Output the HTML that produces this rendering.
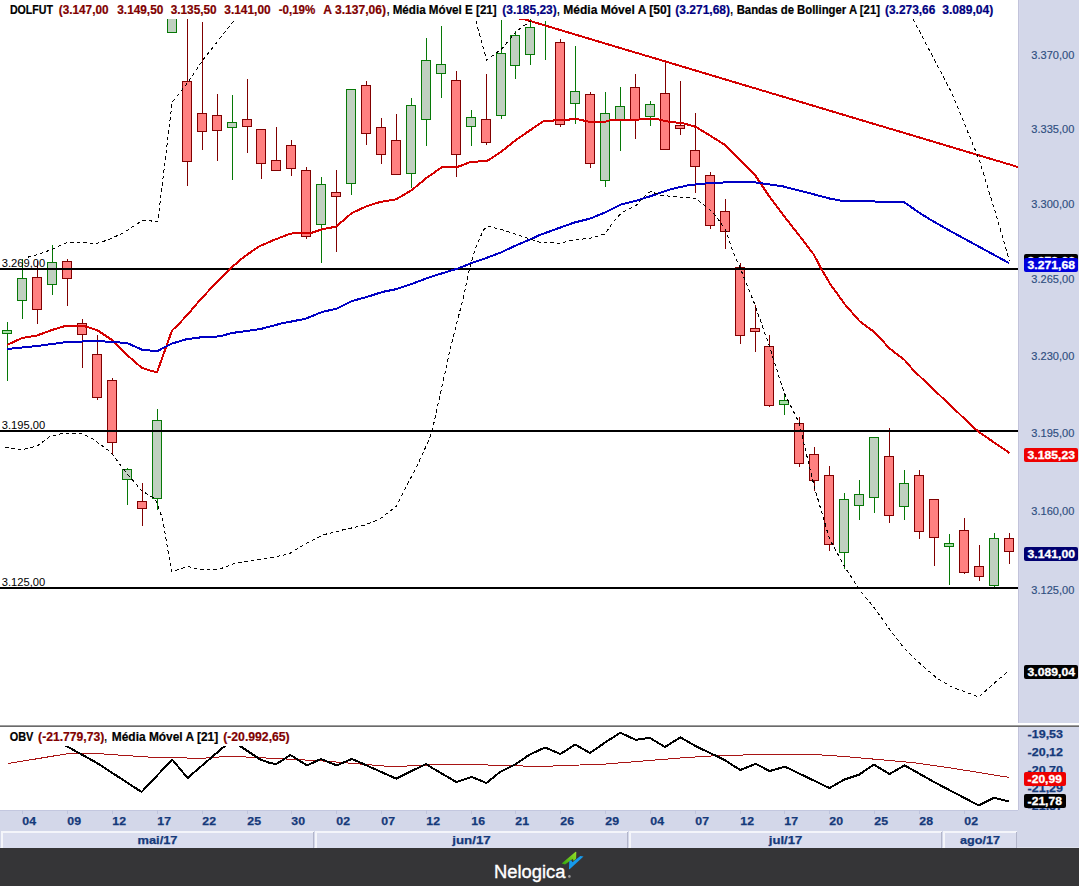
<!DOCTYPE html>
<html><head><meta charset="utf-8"><title>DOLFUT</title>
<style>
html,body{margin:0;padding:0;background:#fff;}
body{width:1079px;height:886px;overflow:hidden;position:relative;font-family:"Liberation Sans",sans-serif;}
svg{position:absolute;left:0;top:0;}
text{font-family:"Liberation Sans",sans-serif;}
.t{font-weight:bold;font-size:12px;stroke-width:0.2px;}
.ax{font-size:11px;fill:#2F4E80;stroke:#2F4E80;stroke-width:0.15px;}
.tag{font-size:11px;font-weight:bold;fill:#fff;stroke:#fff;stroke-width:0.3px;}
.xl{font-size:11px;font-weight:bold;fill:#15397A;stroke:#15397A;stroke-width:0.25px;}
.hl{font-size:11px;fill:#000;}
</style></head><body>
<svg width="1079" height="886" viewBox="0 0 1079 886">
<rect x="0" y="0" width="1079" height="886" fill="#fff"/>
<defs>
<clipPath id="cm"><rect x="0" y="19" width="1018" height="704"/></clipPath>
<clipPath id="co"><rect x="0" y="727" width="1018" height="83"/></clipPath>
</defs>
<!-- right axis -->
<rect x="1018" y="0" width="61" height="848" fill="#D3D7E9"/>
<rect x="1018" y="0" width="1" height="810" fill="#C2C3DA"/>
<rect x="1019" y="0" width="1" height="810" fill="#D6D8EC"/>
<!-- main chart -->
<g clip-path="url(#cm)">
<g shape-rendering="crispEdges">
<rect x="7" y="322" width="1" height="59" fill="#067806"/>
<rect x="2" y="330" width="10" height="4" fill="#067806"/>
<rect x="3" y="331" width="8" height="2" fill="#A6DCA6"/>
<rect x="22" y="259" width="1" height="60" fill="#067806"/>
<rect x="17" y="278" width="10" height="23" fill="#067806"/>
<rect x="18" y="279" width="8" height="21" fill="#C0D0C0"/>
<rect x="37" y="261" width="1" height="63" fill="#800000"/>
<rect x="32" y="277" width="10" height="33" fill="#800000"/>
<rect x="33" y="278" width="8" height="31" fill="#FF8080"/>
<rect x="52" y="245" width="1" height="50" fill="#067806"/>
<rect x="47" y="262" width="10" height="23" fill="#067806"/>
<rect x="48" y="263" width="8" height="21" fill="#C0D0C0"/>
<rect x="67" y="259" width="1" height="47" fill="#800000"/>
<rect x="62" y="261" width="10" height="18" fill="#800000"/>
<rect x="63" y="262" width="8" height="16" fill="#FF8080"/>
<rect x="82" y="319" width="1" height="49" fill="#800000"/>
<rect x="77" y="323" width="10" height="12" fill="#800000"/>
<rect x="78" y="324" width="8" height="10" fill="#FF8080"/>
<rect x="97" y="335" width="1" height="65" fill="#800000"/>
<rect x="92" y="354" width="10" height="44" fill="#800000"/>
<rect x="93" y="355" width="8" height="42" fill="#FF8080"/>
<rect x="112" y="378" width="1" height="77" fill="#800000"/>
<rect x="107" y="380" width="10" height="63" fill="#800000"/>
<rect x="108" y="381" width="8" height="61" fill="#FF8080"/>
<rect x="127" y="468" width="1" height="37" fill="#067806"/>
<rect x="122" y="469" width="10" height="11" fill="#067806"/>
<rect x="123" y="470" width="8" height="9" fill="#C0D0C0"/>
<rect x="142" y="483" width="1" height="43" fill="#800000"/>
<rect x="137" y="501" width="10" height="8" fill="#800000"/>
<rect x="138" y="502" width="8" height="6" fill="#FF8080"/>
<rect x="157" y="409" width="1" height="101" fill="#067806"/>
<rect x="152" y="420" width="10" height="79" fill="#067806"/>
<rect x="153" y="421" width="8" height="77" fill="#C0D0C0"/>
<rect x="172" y="0" width="1" height="33" fill="#067806"/>
<rect x="167" y="0" width="10" height="33" fill="#067806"/>
<rect x="168" y="1" width="8" height="31" fill="#C0D0C0"/>
<rect x="187" y="0" width="1" height="186" fill="#800000"/>
<rect x="182" y="81" width="10" height="81" fill="#800000"/>
<rect x="183" y="82" width="8" height="79" fill="#FF8080"/>
<rect x="202" y="22" width="1" height="128" fill="#800000"/>
<rect x="197" y="113" width="10" height="19" fill="#800000"/>
<rect x="198" y="114" width="8" height="17" fill="#FF8080"/>
<rect x="217" y="94" width="1" height="67" fill="#800000"/>
<rect x="212" y="115" width="10" height="16" fill="#800000"/>
<rect x="213" y="116" width="8" height="14" fill="#FF8080"/>
<rect x="232" y="95" width="1" height="85" fill="#067806"/>
<rect x="227" y="122" width="10" height="6" fill="#067806"/>
<rect x="228" y="123" width="8" height="4" fill="#C0D0C0"/>
<rect x="247" y="79" width="1" height="74" fill="#800000"/>
<rect x="242" y="119" width="10" height="8" fill="#800000"/>
<rect x="243" y="120" width="8" height="6" fill="#FF8080"/>
<rect x="261" y="129" width="1" height="50" fill="#800000"/>
<rect x="256" y="129" width="10" height="35" fill="#800000"/>
<rect x="257" y="130" width="8" height="33" fill="#FF8080"/>
<rect x="276" y="127" width="1" height="44" fill="#800000"/>
<rect x="271" y="160" width="10" height="11" fill="#800000"/>
<rect x="272" y="161" width="8" height="9" fill="#FF8080"/>
<rect x="291" y="140" width="1" height="36" fill="#800000"/>
<rect x="286" y="145" width="10" height="24" fill="#800000"/>
<rect x="287" y="146" width="8" height="22" fill="#FF8080"/>
<rect x="306" y="167" width="1" height="72" fill="#800000"/>
<rect x="301" y="170" width="10" height="67" fill="#800000"/>
<rect x="302" y="171" width="8" height="65" fill="#FF8080"/>
<rect x="321" y="177" width="1" height="86" fill="#067806"/>
<rect x="316" y="184" width="10" height="41" fill="#067806"/>
<rect x="317" y="185" width="8" height="39" fill="#C0D0C0"/>
<rect x="336" y="170" width="1" height="82" fill="#800000"/>
<rect x="331" y="192" width="10" height="5" fill="#800000"/>
<rect x="332" y="193" width="8" height="3" fill="#FF8080"/>
<rect x="351" y="89" width="1" height="106" fill="#067806"/>
<rect x="346" y="89" width="10" height="95" fill="#067806"/>
<rect x="347" y="90" width="8" height="93" fill="#C0D0C0"/>
<rect x="366" y="81" width="1" height="64" fill="#800000"/>
<rect x="361" y="85" width="10" height="49" fill="#800000"/>
<rect x="362" y="86" width="8" height="47" fill="#FF8080"/>
<rect x="381" y="118" width="1" height="46" fill="#800000"/>
<rect x="376" y="127" width="10" height="28" fill="#800000"/>
<rect x="377" y="128" width="8" height="26" fill="#FF8080"/>
<rect x="396" y="114" width="1" height="61" fill="#800000"/>
<rect x="391" y="140" width="10" height="35" fill="#800000"/>
<rect x="392" y="141" width="8" height="33" fill="#FF8080"/>
<rect x="411" y="98" width="1" height="90" fill="#067806"/>
<rect x="406" y="105" width="10" height="69" fill="#067806"/>
<rect x="407" y="106" width="8" height="67" fill="#C0D0C0"/>
<rect x="426" y="38" width="1" height="108" fill="#067806"/>
<rect x="421" y="60" width="10" height="60" fill="#067806"/>
<rect x="422" y="61" width="8" height="58" fill="#C0D0C0"/>
<rect x="441" y="26" width="1" height="72" fill="#067806"/>
<rect x="436" y="64" width="10" height="10" fill="#067806"/>
<rect x="437" y="65" width="8" height="8" fill="#C0D0C0"/>
<rect x="456" y="71" width="1" height="106" fill="#800000"/>
<rect x="451" y="80" width="10" height="75" fill="#800000"/>
<rect x="452" y="81" width="8" height="73" fill="#FF8080"/>
<rect x="471" y="110" width="1" height="36" fill="#067806"/>
<rect x="466" y="117" width="10" height="10" fill="#067806"/>
<rect x="467" y="118" width="8" height="8" fill="#C0D0C0"/>
<rect x="486" y="74" width="1" height="71" fill="#800000"/>
<rect x="481" y="119" width="10" height="24" fill="#800000"/>
<rect x="482" y="120" width="8" height="22" fill="#FF8080"/>
<rect x="501" y="20" width="1" height="99" fill="#067806"/>
<rect x="496" y="53" width="10" height="63" fill="#067806"/>
<rect x="497" y="54" width="8" height="61" fill="#C0D0C0"/>
<rect x="515" y="31" width="1" height="48" fill="#067806"/>
<rect x="510" y="35" width="10" height="31" fill="#067806"/>
<rect x="511" y="36" width="8" height="29" fill="#C0D0C0"/>
<rect x="530" y="19" width="1" height="46" fill="#067806"/>
<rect x="525" y="27" width="10" height="28" fill="#067806"/>
<rect x="526" y="28" width="8" height="26" fill="#C0D0C0"/>
<rect x="545" y="21" width="1" height="39" fill="#067806"/>
<rect x="540" y="21" width="10" height="0" fill="#067806"/>
<rect x="560" y="39" width="1" height="88" fill="#800000"/>
<rect x="555" y="42" width="10" height="83" fill="#800000"/>
<rect x="556" y="43" width="8" height="81" fill="#FF8080"/>
<rect x="575" y="46" width="1" height="78" fill="#067806"/>
<rect x="570" y="91" width="10" height="13" fill="#067806"/>
<rect x="571" y="92" width="8" height="11" fill="#C0D0C0"/>
<rect x="590" y="92" width="1" height="76" fill="#800000"/>
<rect x="585" y="94" width="10" height="70" fill="#800000"/>
<rect x="586" y="95" width="8" height="68" fill="#FF8080"/>
<rect x="605" y="92" width="1" height="95" fill="#067806"/>
<rect x="600" y="113" width="10" height="68" fill="#067806"/>
<rect x="601" y="114" width="8" height="66" fill="#C0D0C0"/>
<rect x="620" y="87" width="1" height="64" fill="#067806"/>
<rect x="615" y="106" width="10" height="14" fill="#067806"/>
<rect x="616" y="107" width="8" height="12" fill="#C0D0C0"/>
<rect x="635" y="74" width="1" height="65" fill="#800000"/>
<rect x="630" y="87" width="10" height="33" fill="#800000"/>
<rect x="631" y="88" width="8" height="31" fill="#FF8080"/>
<rect x="650" y="101" width="1" height="25" fill="#067806"/>
<rect x="645" y="104" width="10" height="13" fill="#067806"/>
<rect x="646" y="105" width="8" height="11" fill="#C0D0C0"/>
<rect x="665" y="60" width="1" height="90" fill="#800000"/>
<rect x="660" y="93" width="10" height="57" fill="#800000"/>
<rect x="661" y="94" width="8" height="55" fill="#FF8080"/>
<rect x="680" y="81" width="1" height="54" fill="#800000"/>
<rect x="675" y="125" width="10" height="4" fill="#800000"/>
<rect x="676" y="126" width="8" height="2" fill="#FF8080"/>
<rect x="695" y="113" width="1" height="80" fill="#800000"/>
<rect x="690" y="150" width="10" height="17" fill="#800000"/>
<rect x="691" y="151" width="8" height="15" fill="#FF8080"/>
<rect x="710" y="172" width="1" height="57" fill="#800000"/>
<rect x="705" y="175" width="10" height="51" fill="#800000"/>
<rect x="706" y="176" width="8" height="49" fill="#FF8080"/>
<rect x="725" y="199" width="1" height="50" fill="#800000"/>
<rect x="720" y="211" width="10" height="21" fill="#800000"/>
<rect x="721" y="212" width="8" height="19" fill="#FF8080"/>
<rect x="740" y="263" width="1" height="81" fill="#800000"/>
<rect x="735" y="267" width="10" height="69" fill="#800000"/>
<rect x="736" y="268" width="8" height="67" fill="#FF8080"/>
<rect x="755" y="305" width="1" height="47" fill="#800000"/>
<rect x="750" y="328" width="10" height="4" fill="#800000"/>
<rect x="751" y="329" width="8" height="2" fill="#FF8080"/>
<rect x="769" y="335" width="1" height="72" fill="#800000"/>
<rect x="764" y="346" width="10" height="60" fill="#800000"/>
<rect x="765" y="347" width="8" height="58" fill="#FF8080"/>
<rect x="784" y="395" width="1" height="20" fill="#067806"/>
<rect x="779" y="400" width="10" height="5" fill="#067806"/>
<rect x="780" y="401" width="8" height="3" fill="#A6DCA6"/>
<rect x="799" y="417" width="1" height="50" fill="#800000"/>
<rect x="794" y="423" width="10" height="41" fill="#800000"/>
<rect x="795" y="424" width="8" height="39" fill="#FF8080"/>
<rect x="814" y="447" width="1" height="44" fill="#800000"/>
<rect x="809" y="454" width="10" height="27" fill="#800000"/>
<rect x="810" y="455" width="8" height="25" fill="#FF8080"/>
<rect x="829" y="466" width="1" height="85" fill="#800000"/>
<rect x="824" y="475" width="10" height="70" fill="#800000"/>
<rect x="825" y="476" width="8" height="68" fill="#FF8080"/>
<rect x="844" y="493" width="1" height="76" fill="#067806"/>
<rect x="839" y="499" width="10" height="54" fill="#067806"/>
<rect x="840" y="500" width="8" height="52" fill="#C0D0C0"/>
<rect x="859" y="480" width="1" height="40" fill="#067806"/>
<rect x="854" y="494" width="10" height="12" fill="#067806"/>
<rect x="855" y="495" width="8" height="10" fill="#C0D0C0"/>
<rect x="874" y="437" width="1" height="76" fill="#067806"/>
<rect x="869" y="437" width="10" height="61" fill="#067806"/>
<rect x="870" y="438" width="8" height="59" fill="#C0D0C0"/>
<rect x="889" y="428" width="1" height="95" fill="#800000"/>
<rect x="884" y="456" width="10" height="60" fill="#800000"/>
<rect x="885" y="457" width="8" height="58" fill="#FF8080"/>
<rect x="904" y="470" width="1" height="50" fill="#067806"/>
<rect x="899" y="483" width="10" height="24" fill="#067806"/>
<rect x="900" y="484" width="8" height="22" fill="#C0D0C0"/>
<rect x="919" y="470" width="1" height="69" fill="#800000"/>
<rect x="914" y="475" width="10" height="57" fill="#800000"/>
<rect x="915" y="476" width="8" height="55" fill="#FF8080"/>
<rect x="934" y="499" width="1" height="67" fill="#800000"/>
<rect x="929" y="499" width="10" height="39" fill="#800000"/>
<rect x="930" y="500" width="8" height="37" fill="#FF8080"/>
<rect x="949" y="534" width="1" height="51" fill="#067806"/>
<rect x="944" y="543" width="10" height="4" fill="#067806"/>
<rect x="945" y="544" width="8" height="2" fill="#A6DCA6"/>
<rect x="964" y="518" width="1" height="56" fill="#800000"/>
<rect x="959" y="530" width="10" height="43" fill="#800000"/>
<rect x="960" y="531" width="8" height="41" fill="#FF8080"/>
<rect x="979" y="545" width="1" height="36" fill="#800000"/>
<rect x="974" y="566" width="10" height="11" fill="#800000"/>
<rect x="975" y="567" width="8" height="9" fill="#FF8080"/>
<rect x="994" y="533" width="1" height="54" fill="#067806"/>
<rect x="989" y="538" width="10" height="48" fill="#067806"/>
<rect x="990" y="539" width="8" height="46" fill="#C0D0C0"/>
<rect x="1009" y="533" width="1" height="31" fill="#800000"/>
<rect x="1004" y="538" width="10" height="14" fill="#800000"/>
<rect x="1005" y="539" width="8" height="12" fill="#FF8080"/>
</g>
<g shape-rendering="crispEdges">
<rect x="0" y="268" width="1018" height="2" fill="#000"/>
<rect x="0" y="430" width="1018" height="2" fill="#000"/>
<rect x="0" y="587" width="1018" height="2" fill="#000"/>
</g>
<line x1="514" y1="16.2" x2="1020" y2="167.6" stroke="#D40000" stroke-width="2" shape-rendering="crispEdges"/>
<rect x="519" y="19" width="8" height="1" fill="#D40000" shape-rendering="crispEdges"/>
<polyline points="7.0,345.0 22.0,338.0 37.0,335.5 52.0,330.0 67.0,325.5 82.0,325.5 97.0,330.0 112.0,340.0 127.0,355.0 142.0,368.0 157.0,372.5 172.0,330.5 179.3,323.5 190.4,311.4 199.7,300.3 216.3,282.7 231.2,267.8 244.1,256.7 259.0,246.5 273.8,240.0 290.5,233.6 299.7,233.0 310.9,233.0 322.0,229.3 335.9,226.7 344.2,219.7 351.6,213.2 366.8,206.1 380.3,202.0 396.1,199.3 411.5,190.3 426.6,177.9 441.7,167.3 456.6,167.3 471.7,161.6 486.4,161.4 501.1,151.9 518.0,138.4 531.6,129.3 544.0,120.8 550.0,120.6 565.3,120.2 575.0,118.6 580.7,119.8 588.4,121.7 605.6,121.7 611.4,119.8 636.3,119.8 645.9,118.6 657.4,119.2 665.1,121.1 684.3,123.6 695.8,126.9 710.0,135.5 725.0,145.0 740.0,160.0 755.0,175.0 770.0,197.5 786.2,218.8 800.0,236.5 814.0,254.8 821.0,268.5 830.5,284.5 845.0,304.5 859.9,321.5 874.8,332.4 889.7,348.6 904.6,360.0 912.7,369.5 927.6,383.8 942.5,397.9 957.4,412.0 973.7,427.7 980.4,433.1 1009.5,453.0" fill="none" stroke="#D40000" stroke-width="2" stroke-linejoin="round" shape-rendering="crispEdges"/>
<polyline points="7.0,349.0 37.0,346.0 67.0,342.0 97.0,341.0 127.0,343.0 142.0,349.7 157.0,351.2 172.0,343.5 186.7,339.2 203.4,337.0 220.0,336.4 231.2,333.1 260.8,329.0 281.2,323.5 305.3,318.8 322.0,312.0 336.8,308.6 351.6,301.2 370.0,296.0 382.6,291.9 396.1,289.2 411.5,284.0 426.6,278.3 441.7,273.4 457.0,268.8 471.7,263.0 486.4,258.0 501.1,252.4 518.0,244.5 531.6,238.8 540.0,234.9 573.4,222.8 590.0,218.6 604.9,212.6 621.6,204.3 636.4,200.6 651.2,196.0 669.7,189.5 688.3,185.2 706.8,183.3 725.4,182.4 752.8,182.0 783.4,186.5 811.2,193.6 830.7,198.8 844.6,201.3 889.0,201.6 904.3,202.2 919.6,213.0 933.0,221.2 950.2,231.0 1009.0,263.0" fill="none" stroke="#0000C4" stroke-width="2" stroke-linejoin="round" shape-rendering="crispEdges"/>
<polyline points="27.5,257.3 38.4,254.3 51.8,249.5 66.2,242.8 80.6,242.3 96.0,243.8 107.5,240.0 122.8,233.2 134.4,225.6 142.0,220.8 149.7,220.4 153.6,221.7 157.8,221.7 171.8,105.0 172.8,101.5 187.8,82.6 202.9,60.0 235.4,18.8" fill="none" stroke="#000" stroke-width="1" stroke-dasharray="3.5,3" shape-rendering="crispEdges"/>
<polyline points="475.9,21.0 486.6,60.0 501.7,49.0 516.7,31.0 530.5,21.0" fill="none" stroke="#000" stroke-width="1" stroke-dasharray="3.5,3" shape-rendering="crispEdges"/>
<polyline points="913.0,19.0 951.7,92.7 979.3,160.0 998.0,221.0 1009.3,261.0" fill="none" stroke="#000" stroke-width="1" stroke-dasharray="3.5,3" shape-rendering="crispEdges"/>
<polyline points="5.0,447.3 7.5,447.6 21.1,450.0 37.3,445.8 49.7,436.6 62.1,433.4 82.0,433.4 92.0,438.4 110.6,452.0 126.7,473.2 141.6,490.6 155.3,498.8 162.7,519.1 171.4,571.8 187.8,566.5 202.9,570.0 218.0,569.7 233.0,564.0 248.0,561.0 270.0,557.7 288.8,554.0 305.0,544.0 323.8,534.7 342.6,530.0 365.0,525.0 380.0,519.0 396.5,506.0 405.0,489.0 415.0,470.0 429.0,440.0 432.8,428.0 450.0,350.0 462.7,300.0 469.5,269.3 475.1,249.0 483.0,230.9 486.9,226.0 500.0,229.1 515.8,234.3 529.3,238.8 540.0,242.5 560.4,243.2 573.4,240.0 590.0,238.2 604.9,234.0 614.1,221.0 621.6,212.6 636.4,205.2 647.5,193.2 651.2,191.3 655.0,193.2 662.3,195.6 679.0,196.9 695.7,198.2 703.1,204.3 712.4,211.7 725.4,229.3 732.8,251.6 740.0,267.5 755.0,305.0 769.0,345.0 784.0,392.5 799.0,422.5 809.0,465.0 814.5,487.5 829.5,539.0 844.5,566.5 859.6,590.0 874.4,608.0 889.4,629.0 904.0,648.0 916.7,660.5 936.6,678.0 952.0,687.0 978.7,697.0 1009.3,670.0" fill="none" stroke="#000" stroke-width="1" stroke-dasharray="3.5,3" shape-rendering="crispEdges"/>
</g>
<text class="hl" x="1.8" y="267" textLength="43.5" lengthAdjust="spacingAndGlyphs">3.269,00</text>
<text class="hl" x="1.8" y="429" textLength="43.5" lengthAdjust="spacingAndGlyphs">3.195,00</text>
<text class="hl" x="1.8" y="586" textLength="43.5" lengthAdjust="spacingAndGlyphs">3.125,00</text>
<text class="t" x="9.9" y="13.5" textLength="43.1" lengthAdjust="spacingAndGlyphs" fill="#000000" stroke="#000000">DOLFUT</text>
<text class="t" x="58.8" y="13.5" textLength="49.7" lengthAdjust="spacingAndGlyphs" fill="#800000" stroke="#800000">(3.147,00</text>
<text class="t" x="117.3" y="13.5" textLength="46.0" lengthAdjust="spacingAndGlyphs" fill="#800000" stroke="#800000">3.149,50</text>
<text class="t" x="170.7" y="13.5" textLength="46.0" lengthAdjust="spacingAndGlyphs" fill="#800000" stroke="#800000">3.135,50</text>
<text class="t" x="224.3" y="13.5" textLength="46.4" lengthAdjust="spacingAndGlyphs" fill="#800000" stroke="#800000">3.141,00</text>
<text class="t" x="278.7" y="13.5" textLength="36.6" lengthAdjust="spacingAndGlyphs" fill="#800000" stroke="#800000">-0,19%</text>
<text class="t" x="323.3" y="13.5" textLength="62.7" lengthAdjust="spacingAndGlyphs" fill="#800000" stroke="#800000">A 3.137,06)</text>
<text class="t" x="387.0" y="13.5" textLength="2.3" lengthAdjust="spacingAndGlyphs" fill="#000000" stroke="#000000">,</text>
<text class="t" x="392.7" y="13.5" textLength="104.0" lengthAdjust="spacingAndGlyphs" fill="#000000" stroke="#000000">Média Móvel E [21]</text>
<text class="t" x="502.3" y="13.5" textLength="54.4" lengthAdjust="spacingAndGlyphs" fill="#000080" stroke="#000080">(3.185,23)</text>
<text class="t" x="557.3" y="13.5" textLength="2.3" lengthAdjust="spacingAndGlyphs" fill="#000000" stroke="#000000">,</text>
<text class="t" x="563.3" y="13.5" textLength="107.4" lengthAdjust="spacingAndGlyphs" fill="#000000" stroke="#000000">Média Móvel A [50]</text>
<text class="t" x="675.3" y="13.5" textLength="54.7" lengthAdjust="spacingAndGlyphs" fill="#000080" stroke="#000080">(3.271,68)</text>
<text class="t" x="730.6" y="13.5" textLength="2.3" lengthAdjust="spacingAndGlyphs" fill="#000000" stroke="#000000">,</text>
<text class="t" x="736.7" y="13.5" textLength="143.3" lengthAdjust="spacingAndGlyphs" fill="#000000" stroke="#000000">Bandas de Bollinger A [21]</text>
<text class="t" x="885.0" y="13.5" textLength="50.3" lengthAdjust="spacingAndGlyphs" fill="#000080" stroke="#000080">(3.273,66</text>
<text class="t" x="942.3" y="13.5" textLength="51.0" lengthAdjust="spacingAndGlyphs" fill="#000080" stroke="#000080">3.089,04)</text>
<text class="ax" x="1031.3" y="59" textLength="43.0" lengthAdjust="spacingAndGlyphs">3.370,00</text>
<text class="ax" x="1031.3" y="133" textLength="43.0" lengthAdjust="spacingAndGlyphs">3.335,00</text>
<text class="ax" x="1031.3" y="208" textLength="43.0" lengthAdjust="spacingAndGlyphs">3.300,00</text>
<text class="ax" x="1031.3" y="283" textLength="43.0" lengthAdjust="spacingAndGlyphs">3.265,00</text>
<text class="ax" x="1031.3" y="360" textLength="43.0" lengthAdjust="spacingAndGlyphs">3.230,00</text>
<text class="ax" x="1031.3" y="437" textLength="43.0" lengthAdjust="spacingAndGlyphs">3.195,00</text>
<text class="ax" x="1031.3" y="515" textLength="43.0" lengthAdjust="spacingAndGlyphs">3.160,00</text>
<text class="ax" x="1031.3" y="594" textLength="43.0" lengthAdjust="spacingAndGlyphs">3.125,00</text>
<rect x="1024" y="254" width="54" height="14" rx="2" ry="2" fill="#000"/><text class="tag" x="1027.6" y="265" textLength="47.4" lengthAdjust="spacingAndGlyphs">3.273,66</text>
<rect x="1024" y="258" width="54" height="14" rx="2" ry="2" fill="#0000DC"/><text class="tag" x="1027.6" y="269" textLength="47.4" lengthAdjust="spacingAndGlyphs">3.271,68</text>
<rect x="1024" y="448" width="54" height="14" rx="2" ry="2" fill="#EE0000"/><text class="tag" x="1027.6" y="459" textLength="47.4" lengthAdjust="spacingAndGlyphs">3.185,23</text>
<rect x="1024" y="547" width="54" height="14" rx="2" ry="2" fill="#000070"/><text class="tag" x="1027.6" y="558" textLength="47.4" lengthAdjust="spacingAndGlyphs">3.141,00</text>
<rect x="1024" y="665" width="54" height="14" rx="2" ry="2" fill="#000"/><text class="tag" x="1027.6" y="676" textLength="47.4" lengthAdjust="spacingAndGlyphs">3.089,04</text>
<!-- separator -->
<g shape-rendering="crispEdges">
<rect x="0" y="723" width="1079" height="2" fill="#fff"/>
<rect x="0" y="725" width="1079" height="1" fill="#9C9C9C"/>
<rect x="0" y="726" width="1079" height="1" fill="#6A6A6A"/>
</g>
<rect x="0" y="727" width="1018" height="83" fill="#fff"/>
<!-- obv -->
<g clip-path="url(#co)">
<polyline points="7.7,763.6 66.3,753.9 102.0,753.9 158.2,757.7 204.0,758.2 229.7,756.2 270.0,758.2 321.0,760.8 392.5,766.7 428.0,765.0 474.0,764.6 540.0,766.5 606.0,764.0 680.0,758.0 720.0,755.4 780.0,754.4 813.5,754.4 846.8,756.7 880.2,759.7 913.6,762.7 946.9,767.4 980.3,772.7 1009.0,777.4" fill="none" stroke="#A81414" stroke-width="1" shape-rendering="crispEdges"/>
<polyline points="52.0,738.0 66.3,746.0 97.0,763.0 141.6,792.0 172.2,759.5 187.6,778.0 224.5,746.2 232.0,739.5 240.0,746.0 260.3,759.5 270.0,763.0 276.4,764.0 290.4,755.0 307.0,765.4 321.0,759.0 336.9,765.4 351.7,759.0 359.0,762.0 396.3,778.7 426.0,763.9 433.0,768.4 456.3,782.0 471.6,776.9 486.4,783.0 499.6,772.3 515.0,764.6 529.0,755.0 540.0,749.8 545.0,747.5 560.4,754.0 575.2,744.5 590.0,753.0 606.3,741.7 620.4,732.7 635.7,739.9 649.7,737.8 665.0,747.0 680.3,737.3 697.0,746.8 723.7,759.5 740.3,770.0 755.6,763.9 769.7,771.0 785.0,766.7 810.0,778.7 829.4,788.0 844.7,779.4 858.8,774.8 874.0,764.6 889.4,774.0 904.7,765.4 934.0,782.0 978.7,805.4 994.0,797.8 1009.3,801.6" fill="none" stroke="#000" stroke-width="2" stroke-linejoin="round" shape-rendering="crispEdges"/>
</g>
<rect x="0" y="727" width="293" height="19" fill="#fff"/>
<text class="t" x="9.7" y="741" textLength="23.7" lengthAdjust="spacingAndGlyphs" fill="#000000" stroke="#000000">OBV</text>
<text class="t" x="38.1" y="741" textLength="66.2" lengthAdjust="spacingAndGlyphs" fill="#800000" stroke="#800000">(-21.779,73)</text>
<text class="t" x="104.6" y="741" textLength="2.3" lengthAdjust="spacingAndGlyphs" fill="#000000" stroke="#000000">,</text>
<text class="t" x="111.8" y="741" textLength="106.4" lengthAdjust="spacingAndGlyphs" fill="#000000" stroke="#000000">Média Móvel A [21]</text>
<text class="t" x="223.2" y="741" textLength="66.5" lengthAdjust="spacingAndGlyphs" fill="#800000" stroke="#800000">(-20.992,65)</text>
<text class="xl" x="1027.6" y="738" textLength="35.4" lengthAdjust="spacingAndGlyphs">-19,53</text>
<text class="xl" x="1027.6" y="756" textLength="35.4" lengthAdjust="spacingAndGlyphs">-20,12</text>
<text class="xl" x="1027.6" y="774" textLength="35.4" lengthAdjust="spacingAndGlyphs">-20,70</text>
<text class="xl" x="1027.6" y="792" textLength="35.4" lengthAdjust="spacingAndGlyphs">-21,29</text>
<text class="xl" x="1027.6" y="810" textLength="35.4" lengthAdjust="spacingAndGlyphs">-21,87</text>
<rect x="1024" y="772" width="42" height="14" rx="2" ry="2" fill="#EE0000"/><text class="tag" x="1027.6" y="783" textLength="34.4" lengthAdjust="spacingAndGlyphs">-20,99</text>
<rect x="1024" y="794" width="42" height="14" rx="2" ry="2" fill="#000"/><text class="tag" x="1027.6" y="805" textLength="34.4" lengthAdjust="spacingAndGlyphs">-21,78</text>
<!-- x axis -->
<rect x="0" y="810" width="1079" height="38" fill="#D3D7E9"/>
<rect x="0" y="847" width="1079" height="1" fill="#DFE2EE"/>
<rect x="0" y="810" width="1018" height="1" fill="#C3C7DF"/>
<rect x="22" y="810" width="1" height="4" fill="#BEC3DC" shape-rendering="crispEdges"/>
<text class="xl" x="22.3" y="825" textLength="13.7" lengthAdjust="spacingAndGlyphs">04</text>
<rect x="67" y="810" width="1" height="4" fill="#BEC3DC" shape-rendering="crispEdges"/>
<text class="xl" x="67.3" y="825" textLength="13.7" lengthAdjust="spacingAndGlyphs">09</text>
<rect x="112" y="810" width="1" height="4" fill="#BEC3DC" shape-rendering="crispEdges"/>
<text class="xl" x="112.3" y="825" textLength="13.7" lengthAdjust="spacingAndGlyphs">12</text>
<rect x="157" y="810" width="1" height="4" fill="#BEC3DC" shape-rendering="crispEdges"/>
<text class="xl" x="157.3" y="825" textLength="13.7" lengthAdjust="spacingAndGlyphs">17</text>
<rect x="202" y="810" width="1" height="4" fill="#BEC3DC" shape-rendering="crispEdges"/>
<text class="xl" x="202.3" y="825" textLength="13.7" lengthAdjust="spacingAndGlyphs">22</text>
<rect x="247" y="810" width="1" height="4" fill="#BEC3DC" shape-rendering="crispEdges"/>
<text class="xl" x="247.3" y="825" textLength="13.7" lengthAdjust="spacingAndGlyphs">25</text>
<rect x="291" y="810" width="1" height="4" fill="#BEC3DC" shape-rendering="crispEdges"/>
<text class="xl" x="291.3" y="825" textLength="13.7" lengthAdjust="spacingAndGlyphs">30</text>
<rect x="336" y="810" width="1" height="4" fill="#BEC3DC" shape-rendering="crispEdges"/>
<text class="xl" x="336.3" y="825" textLength="13.7" lengthAdjust="spacingAndGlyphs">02</text>
<rect x="381" y="810" width="1" height="4" fill="#BEC3DC" shape-rendering="crispEdges"/>
<text class="xl" x="381.3" y="825" textLength="13.7" lengthAdjust="spacingAndGlyphs">07</text>
<rect x="426" y="810" width="1" height="4" fill="#BEC3DC" shape-rendering="crispEdges"/>
<text class="xl" x="426.3" y="825" textLength="13.7" lengthAdjust="spacingAndGlyphs">12</text>
<rect x="471" y="810" width="1" height="4" fill="#BEC3DC" shape-rendering="crispEdges"/>
<text class="xl" x="471.3" y="825" textLength="13.7" lengthAdjust="spacingAndGlyphs">16</text>
<rect x="515" y="810" width="1" height="4" fill="#BEC3DC" shape-rendering="crispEdges"/>
<text class="xl" x="515.3" y="825" textLength="13.7" lengthAdjust="spacingAndGlyphs">21</text>
<rect x="560" y="810" width="1" height="4" fill="#BEC3DC" shape-rendering="crispEdges"/>
<text class="xl" x="560.3" y="825" textLength="13.7" lengthAdjust="spacingAndGlyphs">26</text>
<rect x="605" y="810" width="1" height="4" fill="#BEC3DC" shape-rendering="crispEdges"/>
<text class="xl" x="605.3" y="825" textLength="13.7" lengthAdjust="spacingAndGlyphs">29</text>
<rect x="650" y="810" width="1" height="4" fill="#BEC3DC" shape-rendering="crispEdges"/>
<text class="xl" x="650.3" y="825" textLength="13.7" lengthAdjust="spacingAndGlyphs">04</text>
<rect x="695" y="810" width="1" height="4" fill="#BEC3DC" shape-rendering="crispEdges"/>
<text class="xl" x="695.3" y="825" textLength="13.7" lengthAdjust="spacingAndGlyphs">07</text>
<rect x="740" y="810" width="1" height="4" fill="#BEC3DC" shape-rendering="crispEdges"/>
<text class="xl" x="740.3" y="825" textLength="13.7" lengthAdjust="spacingAndGlyphs">12</text>
<rect x="784" y="810" width="1" height="4" fill="#BEC3DC" shape-rendering="crispEdges"/>
<text class="xl" x="784.3" y="825" textLength="13.7" lengthAdjust="spacingAndGlyphs">17</text>
<rect x="829" y="810" width="1" height="4" fill="#BEC3DC" shape-rendering="crispEdges"/>
<text class="xl" x="829.3" y="825" textLength="13.7" lengthAdjust="spacingAndGlyphs">20</text>
<rect x="874" y="810" width="1" height="4" fill="#BEC3DC" shape-rendering="crispEdges"/>
<text class="xl" x="874.3" y="825" textLength="13.7" lengthAdjust="spacingAndGlyphs">25</text>
<rect x="919" y="810" width="1" height="4" fill="#BEC3DC" shape-rendering="crispEdges"/>
<text class="xl" x="919.3" y="825" textLength="13.7" lengthAdjust="spacingAndGlyphs">28</text>
<rect x="964" y="810" width="1" height="4" fill="#BEC3DC" shape-rendering="crispEdges"/>
<text class="xl" x="964.3" y="825" textLength="13.7" lengthAdjust="spacingAndGlyphs">02</text>
<rect x="1" y="831" width="313" height="17" fill="#DADDEE"/>
<rect x="1" y="831" width="313" height="2" fill="#F4F5FA"/>
<rect x="1" y="831" width="2" height="17" fill="#F4F5FA"/>
<rect x="313" y="832" width="1" height="16" fill="#B2B5CA"/>
<text class="xl" x="157.5" y="844" text-anchor="middle" textLength="40" lengthAdjust="spacingAndGlyphs">mai/17</text>
<rect x="315" y="831" width="313" height="17" fill="#DADDEE"/>
<rect x="315" y="831" width="313" height="2" fill="#F4F5FA"/>
<rect x="315" y="831" width="2" height="17" fill="#F4F5FA"/>
<rect x="627" y="832" width="1" height="16" fill="#B2B5CA"/>
<text class="xl" x="471.5" y="844" text-anchor="middle" textLength="38.5" lengthAdjust="spacingAndGlyphs">jun/17</text>
<rect x="629" y="831" width="313" height="17" fill="#DADDEE"/>
<rect x="629" y="831" width="313" height="2" fill="#F4F5FA"/>
<rect x="629" y="831" width="2" height="17" fill="#F4F5FA"/>
<rect x="941" y="832" width="1" height="16" fill="#B2B5CA"/>
<text class="xl" x="785.5" y="844" text-anchor="middle" textLength="33.5" lengthAdjust="spacingAndGlyphs">jul/17</text>
<rect x="943" y="831" width="74" height="17" fill="#DADDEE"/>
<rect x="943" y="831" width="74" height="2" fill="#F4F5FA"/>
<rect x="943" y="831" width="2" height="17" fill="#F4F5FA"/>
<rect x="1016" y="832" width="1" height="16" fill="#B2B5CA"/>
<text class="xl" x="980.0" y="844" text-anchor="middle" textLength="40" lengthAdjust="spacingAndGlyphs">ago/17</text>
<!-- footer -->
<rect x="0" y="848" width="1079" height="38" fill="#353537"/>
<defs><linearGradient id="lg" x1="0" y1="1" x2="1" y2="0"><stop offset="0" stop-color="#2FA40E"/><stop offset="1" stop-color="#9BE228"/></linearGradient></defs><text x="494" y="877.5" textLength="71.5" lengthAdjust="spacingAndGlyphs" style="font-family:'Liberation Sans',sans-serif;font-weight:normal;font-size:18px" fill="#fff" stroke="#fff" stroke-width="0.35">Nelogica</text><circle cx="569.4" cy="876.4" r="1.3" fill="#9A9A9A"/><path d="M561.6,863.6 L575.6,851.8 L576.3,852 L576.1,858.8 L573.8,861 L572.6,859 L565,864.6 Z" fill="url(#lg)"/><path d="M568.95,869.1 L569.3,861 L571.2,860.3 L572.5,862.3 L580.3,856.1 L583.5,856.4 L569.6,869.2 Z" fill="#169AEC"/>
</svg>
</body></html>
